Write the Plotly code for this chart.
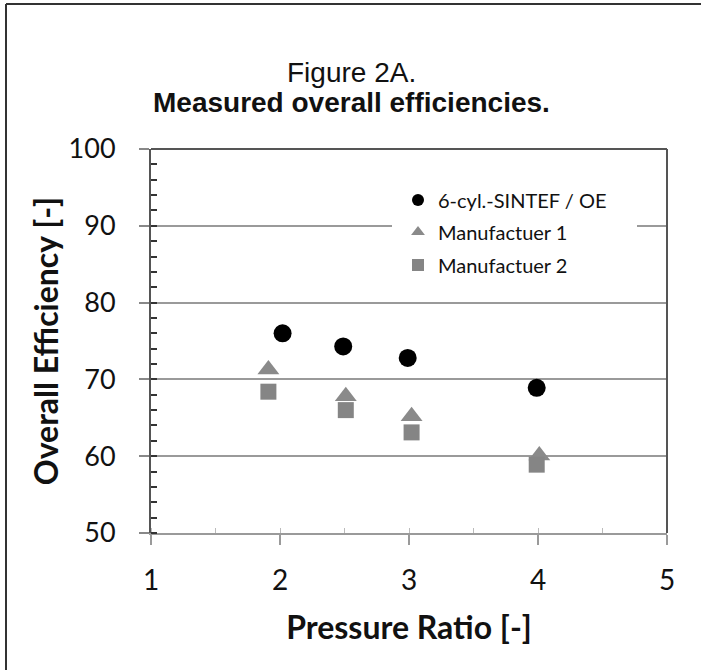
import plotly.graph_objects as go

# Data
series_names = ["6-cyl.-SINTEF / OE", "Manufactuer 1", "Manufactuer 2"]
x_sintef = [2.02, 2.49, 2.99, 3.99]
y_sintef = [76.0, 74.3, 72.8, 68.9]
x_m1 = [1.91, 2.51, 3.02, 4.01]
y_m1 = [71.3, 67.8, 65.2, 60.1]
x_m2 = [1.91, 2.51, 3.02, 3.99]
y_m2 = [68.4, 66.0, 63.1, 58.9]

title_line1 = "Figure 2A."
title_line2 = "Measured overall efficiencies."
x_title = "Pressure Ratio [-]"
y_title = "Overall Efficiency [-]"

AX_FONT = "Lato, 'Open Sans', sans-serif"
TITLE_FONT = "'Liberation Sans Narrow', 'Liberation Sans', Arial, sans-serif"

W, H = 701, 670
ML, MR, MT, MB = 151, 34, 149, 137
H_plot = H - MT - MB
W_plot = W - ML - MR


def py(pix):
    return 1 + (MT - pix) / H_plot


def px(pix):
    return (pix - ML) / W_plot


legend_font = dict(family=AX_FONT, size=20, color="#111111")

fig = go.Figure()
fig.add_trace(go.Scatter(x=x_sintef, y=y_sintef, mode="markers", name=series_names[0], legend="legend",
                         marker=dict(symbol="circle", size=18, color="#000000")))
fig.add_trace(go.Scatter(x=x_m1, y=y_m1, mode="markers", name=series_names[1], legend="legend2",
                         marker=dict(symbol="triangle-up", size=19, color="#8a8a8a")))
fig.add_trace(go.Scatter(x=x_m2, y=y_m2, mode="markers", name=series_names[2], legend="legend3",
                         marker=dict(symbol="square", size=16, color="#858585")))

leg_common = dict(xanchor="left", yanchor="middle", bgcolor="rgba(0,0,0,0)", borderwidth=0,
                  font=legend_font, itemsizing="constant", itemwidth=30)

fig.update_layout(
    width=W, height=H,
    margin=dict(l=ML, r=MR, t=MT, b=MB),
    paper_bgcolor="white", plot_bgcolor="white",
    showlegend=True,
    legend=dict(x=px(398), y=py(200), **leg_common),
    legend2=dict(x=px(398), y=py(232), **leg_common),
    legend3=dict(x=px(398), y=py(265), **leg_common),
    xaxis=dict(range=[1, 5], dtick=1, tick0=1, showgrid=False, zeroline=False,
               showline=True, linecolor="#9a9a9a", linewidth=2,
               ticks="outside", ticklen=10, tickwidth=2, tickcolor="#9a9a9a",
               ticklabelstandoff=11,
               tickfont=dict(family=AX_FONT, size=28, color="#111111"),
               minor=dict(dtick=0.5, ticks="inside", ticklen=5, tickcolor="#bbbbbb", tickwidth=1, showgrid=False),
               title=dict(text="<b>" + x_title + "</b>", font=dict(family=AX_FONT, size=32, color="#111111"),
                          standoff=22)),
    yaxis=dict(range=[50, 100], dtick=10, tick0=50, showgrid=True, gridcolor="#9a9a9a", gridwidth=2,
               zeroline=False, showline=True, linecolor="#555555", linewidth=2,
               ticks="outside", ticklen=10, tickwidth=2, tickcolor="#888888",
               ticklabelstandoff=18,
               tickfont=dict(family=AX_FONT, size=27, color="#111111"),
               minor=dict(dtick=2, ticks="inside", ticklen=6, tickcolor="#333333", tickwidth=2, showgrid=False),
               title=dict(text="<b>" + y_title + "</b>", font=dict(family=AX_FONT, size=32, color="#111111"),
                          standoff=0)),
)

fig.add_annotation(text=title_line1, x=px(351), y=py(72), xref="paper", yref="paper", showarrow=False,
                   xanchor="center", yanchor="middle", font=dict(family=TITLE_FONT, size=28, color="#111111"))
fig.add_annotation(text="<b>" + title_line2 + "</b>", x=px(351), y=py(103), xref="paper", yref="paper",
                   showarrow=False, xanchor="center", yanchor="middle",
                   font=dict(family=TITLE_FONT, size=28, color="#111111"))

# white box behind legend interrupting the 90 gridline
fig.add_shape(type="rect", xref="paper", yref="paper", x0=px(392), x1=px(637), y0=py(184), y1=py(281),
              line=dict(width=0), fillcolor="white", layer="above")
# plot area top and right border
fig.add_shape(type="line", xref="x domain", yref="y domain", x0=0, x1=1, y0=1, y1=1,
              line=dict(color="#555555", width=2), layer="above")
fig.add_shape(type="line", xref="x domain", yref="y domain", x0=1, x1=1, y0=0, y1=1,
              line=dict(color="#555555", width=2), layer="above")
# outer frame: left and top edges of the figure box
fig.add_shape(type="line", xref="paper", yref="paper", x0=px(6), x1=px(6), y0=py(4), y1=py(H + 5),
              line=dict(color="#333333", width=2), layer="below")
fig.add_shape(type="line", xref="paper", yref="paper", x0=px(6), x1=px(W + 5), y0=py(4), y1=py(4),
              line=dict(color="#333333", width=2), layer="below")

fig.write_html("out.html")
